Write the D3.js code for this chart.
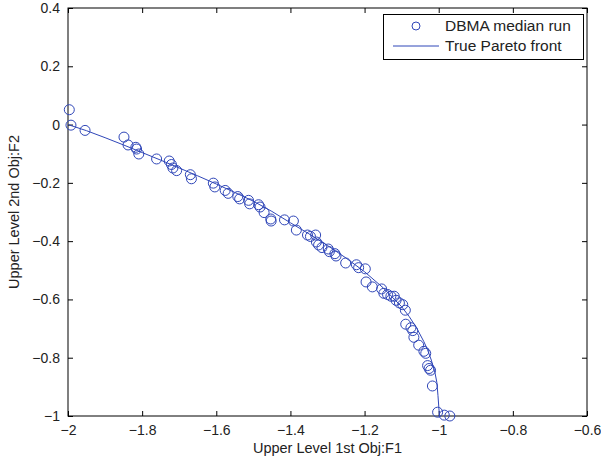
<!DOCTYPE html>
<html><head><meta charset="utf-8">
<script src="https://cdn.jsdelivr.net/npm/d3@7"></script>
<style>body{margin:0;background:#fff}svg{display:block}text{font-family:"Liberation Sans",Arial,Helvetica,sans-serif;fill:#222}</style>
</head><body><svg id="c" width="601" height="465"></svg>
<script>
// DBMA median run (F1, F2)
const runF1 = [-1.9965,-1.992,-1.954,-1.849,-1.838,-1.817,-1.815,-1.809,-1.761,-1.727,-1.721,-1.717,-1.707,-1.670,-1.667,-1.608,-1.604,-1.576,-1.568,-1.542,-1.537,-1.513,-1.510,-1.486,-1.482,-1.471,-1.453,-1.452,-1.416,-1.392,-1.384,-1.354,-1.346,-1.332,-1.330,-1.324,-1.315,-1.298,-1.295,-1.280,-1.277,-1.251,-1.222,-1.216,-1.198,-1.196,-1.179,-1.154,-1.148,-1.138,-1.129,-1.120,-1.115,-1.106,-1.097,-1.090,-1.089,-1.075,-1.070,-1.067,-1.054,-1.040,-1.035,-1.030,-1.026,-1.022,-1.017,-1.003,-0.985,-0.970];
const runF2 = [0.051,-0.002,-0.020,-0.043,-0.070,-0.078,-0.084,-0.101,-0.118,-0.125,-0.137,-0.149,-0.158,-0.172,-0.186,-0.201,-0.214,-0.226,-0.236,-0.247,-0.255,-0.260,-0.272,-0.275,-0.283,-0.302,-0.324,-0.331,-0.327,-0.331,-0.362,-0.379,-0.384,-0.379,-0.403,-0.413,-0.422,-0.427,-0.436,-0.443,-0.451,-0.475,-0.481,-0.491,-0.495,-0.540,-0.557,-0.564,-0.579,-0.583,-0.589,-0.589,-0.603,-0.612,-0.618,-0.637,-0.685,-0.697,-0.707,-0.730,-0.757,-0.778,-0.785,-0.827,-0.837,-0.843,-0.897,-0.987,-0.997,-1.000];
// True Pareto front
const frontF1 = [-2.0,-1.95,-1.9,-1.85,-1.8,-1.75,-1.7,-1.65,-1.6,-1.55,-1.5,-1.45,-1.4,-1.35,-1.3,-1.25,-1.2,-1.15,-1.1,-1.08,-1.06,-1.04,-1.03,-1.02,-1.01,-1.005,-1.002,-0.998];
const frontF2 = [0.0,-0.021,-0.045,-0.070,-0.096,-0.122,-0.149,-0.176,-0.204,-0.233,-0.263,-0.298,-0.337,-0.375,-0.415,-0.458,-0.505,-0.560,-0.625,-0.658,-0.697,-0.745,-0.773,-0.808,-0.852,-0.885,-0.93,-1.0];
const xTicks = [-2,-1.8,-1.6,-1.4,-1.2,-1,-0.8,-0.6];
const yTicks = [-1,-0.8,-0.6,-0.4,-0.2,0,0.2,0.4];
const legendLabels = ["DBMA median run","True Pareto front"];
const xLabel = "Upper Level 1st Obj:F1";
const yLabel = "Upper Level 2nd Obj:F2";

const col = "#2f46b8";
const svg = d3.select("#c");
const L=68, R=587, T=8, B=416;
const x = d3.scaleLinear().domain([-2,-0.6]).range([L,R]);
const y = d3.scaleLinear().domain([-1,0.4]).range([B,T]);
const fmt = d => (d<0?"\u2212":"") + String(Math.abs(d));

const ax = (g,a)=>g.call(a).call(s=>s.select(".domain").remove()).call(s=>s.selectAll("line").attr("stroke","#000"));
svg.append("g").attr("transform",`translate(0,${B})`).call(g=>ax(g,d3.axisBottom(x).tickValues(xTicks).tickSize(-5).tickPadding(9).tickFormat(fmt)))
  .selectAll("text").attr("font-size",14).attr("fill","#222");
svg.append("g").attr("transform",`translate(0,${T})`).call(g=>ax(g,d3.axisTop(x).tickValues(xTicks).tickSize(-5).tickFormat("")));
svg.append("g").attr("transform",`translate(${L},0)`).call(g=>ax(g,d3.axisLeft(y).tickValues(yTicks).tickSize(-5).tickPadding(8).tickFormat(fmt)))
  .selectAll("text").attr("font-size",14).attr("fill","#222");
svg.append("g").attr("transform",`translate(${R},0)`).call(g=>ax(g,d3.axisRight(y).tickValues(yTicks).tickSize(-5).tickFormat("")));
svg.append("rect").attr("x",L).attr("y",T).attr("width",R-L).attr("height",B-T).attr("fill","none").attr("stroke","#000").attr("stroke-width",1);

const line = d3.line().x((d,i)=>x(frontF1[i])).y((d,i)=>y(frontF2[i]));
svg.append("path").attr("d",line(frontF1)).attr("fill","none").attr("stroke",col).attr("stroke-width",1);
svg.append("g").selectAll("circle").data(runF1).join("circle")
  .attr("cx",(d,i)=>x(runF1[i])).attr("cy",(d,i)=>y(runF2[i])).attr("r",5)
  .attr("fill","none").attr("stroke",col).attr("stroke-width",1);

svg.append("text").attr("x",(L+R)/2).attr("y",453).attr("text-anchor","middle").attr("font-size",14.5).text(xLabel);
svg.append("text").attr("transform",`translate(19,${(T+B)/2}) rotate(-90)`).attr("text-anchor","middle").attr("font-size",14.5).text(yLabel);

const lg = svg.append("g");
lg.append("rect").attr("x",383.5).attr("y",14.5).attr("width",200).attr("height",45).attr("fill","#fff").attr("stroke","#000");
lg.append("circle").attr("cx",416).attr("cy",26).attr("r",4).attr("fill","none").attr("stroke",col);
lg.append("line").attr("x1",393).attr("x2",439).attr("y1",46).attr("y2",46).attr("stroke",col);
lg.selectAll("text.l").data(legendLabels).join("text").attr("class","l")
  .attr("x",445).attr("y",(d,i)=>26+i*20).attr("dy","0.35em").attr("font-size",15.5).text(d=>d);
</script></body></html>
